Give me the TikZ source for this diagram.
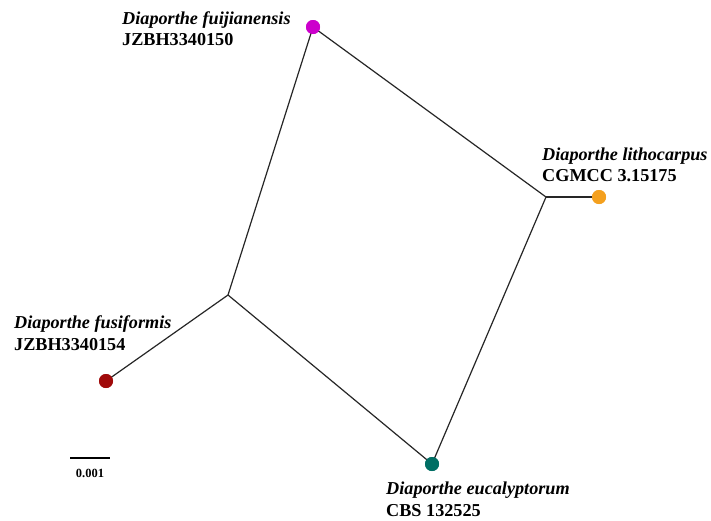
\documentclass[tikz,border=0pt]{standalone}
\usepackage{fontspec}
\setmainfont{Liberation Serif}
\begin{document}
\begin{tikzpicture}[x=1pt,y=-1pt,
  branch/.style={draw=black!85,line width=1.2pt},
  tip/.style={circle,inner sep=0pt,minimum size=14pt,fill=#1},
  taxon/.style={anchor=base west,inner sep=0pt,font=\fontsize{18.2}{22}\selectfont\bfseries\itshape},
  strain/.style={anchor=base west,inner sep=0pt,font=\fontsize{18.2}{22}\selectfont\bfseries},
  scalelabel/.style={anchor=base,inner sep=0pt,font=\fontsize{12.5}{14}\selectfont\bfseries}]
\definecolor{tipmagenta}{RGB}{204,0,204}
\definecolor{tiporange}{RGB}{244,160,30}
\definecolor{tipred}{RGB}{160,10,10}
\definecolor{tipteal}{RGB}{0,110,100}
\useasboundingbox[fill=white] (0,0) rectangle (711,520);

% internal nodes of the network
\coordinate (ja) at (228,295);
\coordinate (jb) at (546,197);

% terminal taxa (placed first so the branches can refer to them)
\node[tip=tipmagenta] (fuj) at (313,27) {};
\node[tip=tiporange] (lit) at (599,197) {};
\node[tip=tipred] (fus) at (106,381) {};
\node[tip=tipteal] (euc) at (432,464) {};

% branches
\draw[branch] (ja) -- (fuj.center);
\draw[branch] (fuj.center) -- (jb);
\draw[branch] (jb) -- (lit.center);
\draw[branch] (jb) -- (euc.center);
\draw[branch] (ja) -- (euc.center);
\draw[branch] (ja) -- (fus.center);

% dots redrawn over the branch ends
\node[tip=tipmagenta] at (fuj) {};
\node[tip=tiporange] at (lit) {};
\node[tip=tipred] at (fus) {};
\node[tip=tipteal] at (euc) {};

% labels
\node[taxon] (fujname) at (122,24) {Diaporthe fuijianensis};
\node[strain] (fujid) at (122,45) {JZBH3340150};
\node[taxon] (litname) at (542,160) {Diaporthe lithocarpus};
\node[strain] (litid) at (542,181) {CGMCC 3.15175};
\node[taxon] (fusname) at (14,328) {Diaporthe fusiformis};
\node[strain] (fusid) at (14,350) {JZBH3340154};
\node[taxon] (eucname) at (386,494) {Diaporthe eucalyptorum};
\node[strain] (eucid) at (386,516) {CBS 132525};

% scale bar
\coordinate (sbl) at (70,458);
\coordinate (sbr) at (110,458);
\draw[line width=1.6pt] (sbl) -- (sbr);
\node[scalelabel] (sblabel) at (90,477) {0.001};
\end{tikzpicture}
\end{document}
